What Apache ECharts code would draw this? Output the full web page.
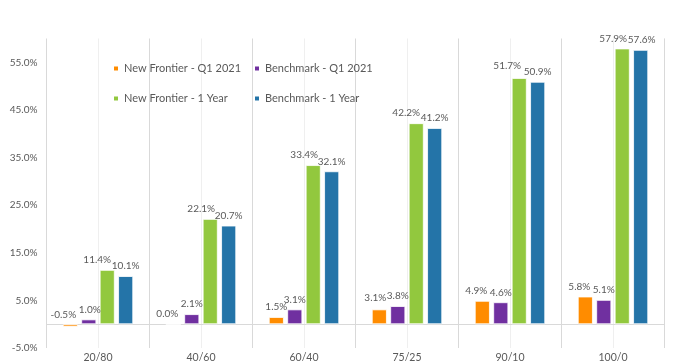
<!DOCTYPE html>
<html><head><meta charset="utf-8">
<script src="https://cdn.jsdelivr.net/npm/echarts@6/dist/echarts.min.js"></script>
<style>html,body{margin:0;padding:0;background:#fff}#c{width:693px;height:363px}</style>
</head><body><div id="c"></div>
<script>
const categories = ['20/80', '40/60', '60/40', '75/25', '90/10', '100/0'];
const nfQ1 = [-0.5, 0.0, 1.5, 3.1, 4.9, 5.8];
const bmQ1 = [1.0, 2.1, 3.1, 3.8, 4.6, 5.1];
const nf1Y = [11.4, 22.1, 33.4, 42.2, 51.7, 57.9];
const bm1Y = [10.1, 20.7, 32.1, 41.2, 50.9, 57.6];
const seriesNames = ['New Frontier - Q1 2021', 'Benchmark - Q1 2021', 'New Frontier - 1 Year', 'Benchmark - 1 Year'];
const colors = ['#FF8C00', '#7030A0', '#92C83E', '#2474A8'];

// label shifts (style, not data)
const labelShift = [
  [[-7, 1], [-6, 0], [0, 0], [-4, -2], [-6, 0], [-6, 0]],
  [[1, 0], [0, 0], [0, 0], [0, 0], [0, 0], [0, 0]],
  [[-10, 0], [-9, 0], [-9, 0], [-10, 0], [-12, -2], [-9, 0]],
  [[0, 0], [0, 0], [0, 0], [0, 0], [0, 0], [1, 0]]
];
const leader = [[0, 3], [], [4], []];

const FONT = 'Lato';
const TXT = '#595959';

function mk(si, arr) {
  return {
    name: seriesNames[si],
    type: 'bar',
    xAxisIndex: 0,
    barWidth: 15,
    barGap: '23%',
    itemStyle: { color: colors[si], borderColor: '#ffffff', borderWidth: 0.8 },
    label: {
      show: true, position: 'top', distance: 5,
      fontFamily: FONT, fontSize: 10, color: TXT,
      formatter: p => p.value.toFixed(1) + '%'
    },
    labelLine: { show: false, lineStyle: { color: '#a6a6a6', width: 1 } },
    data: arr.map((v, i) => {
      const o = { value: v, label: { offset: labelShift[si][i] } };
      if (leader[si].indexOf(i) >= 0) o.labelLine = { show: true, lineStyle: { color: '#a6a6a6', width: 1 } };
      return o;
    }),
    z: 3
  };
}

const halfCats = [];
categories.forEach(c => { halfCats.push(c + 'a', c + 'b'); });

const chart = echarts.init(document.getElementById('c'));
chart.setOption({
  animation: false,
  backgroundColor: '#ffffff',
  grid: { left: 46.5, right: 28.5, top: 38.5, bottom: 14.7, containLabel: false },
  legend: [
    {
      data: [seriesNames[0], seriesNames[2]], orient: 'vertical', padding: 0,
      left: 112, top: 63, itemWidth: 6, itemHeight: 6, itemGap: 19,
      icon: 'rect', textStyle: { fontFamily: FONT, fontSize: 11, color: TXT }
    },
    {
      data: [seriesNames[1], seriesNames[3]], orient: 'vertical', padding: 0,
      left: 253, top: 63, itemWidth: 6, itemHeight: 6, itemGap: 19,
      icon: 'rect', textStyle: { fontFamily: FONT, fontSize: 11, color: TXT }
    }
  ],
  xAxis: [
    {
      type: 'category', data: categories,
      axisLine: { show: true, onZero: true, lineStyle: { color: '#d9d9d9', width: 1 } },
      axisTick: { show: false },
      axisLabel: { fontFamily: FONT, fontSize: 10.5, color: TXT, margin: 4 },
      splitLine: { show: true, lineStyle: { color: '#d9d9d9', width: 1 } },
      z: 2
    },
    {
      type: 'category', data: halfCats, position: 'bottom',
      axisLine: { show: false }, axisTick: { show: false }, axisLabel: { show: false },
      splitLine: { show: true, interval: (i) => i % 2 === 1, lineStyle: { color: '#efefef', width: 1 } },
      z: 1
    }
  ],
  yAxis: {
    type: 'value', min: -5, max: 60, interval: 10,
    axisLine: { show: false }, axisTick: { show: false },
    splitLine: { show: false },
    axisLabel: {
      fontFamily: FONT, fontSize: 10, color: TXT, margin: 9,
      showMaxLabel: false,
      formatter: v => (v >= 60 ? '' : v.toFixed(1) + '%')
    }
  },
  series: [mk(0, nfQ1), mk(1, bmQ1), mk(2, nf1Y), mk(3, bm1Y)]
});
</script></body></html>
